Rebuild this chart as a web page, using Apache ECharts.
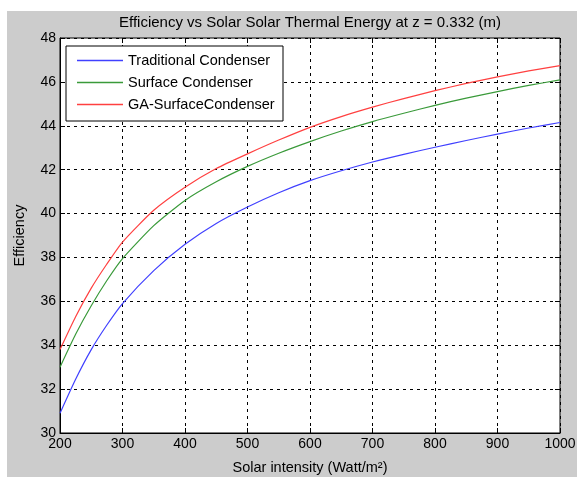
<!DOCTYPE html>
<html>
<head>
<meta charset="utf-8">
<script src="https://cdn.jsdelivr.net/npm/echarts@6/dist/echarts.min.js"></script>
<style>html,body{margin:0;padding:0;background:#fff}#c{width:577px;height:477px}</style>
</head>
<body>
<div id="c"></div>
<script>
var xValues = [200, 225, 250, 275, 300, 350, 400, 450, 500, 550, 600, 650, 700, 750, 800, 850, 900, 950, 1000];
var traditional = [30.9, 32.45, 33.8, 34.92, 35.9, 37.4, 38.6, 39.55, 40.3, 40.95, 41.5, 41.95, 42.35, 42.7, 43.02, 43.33, 43.62, 43.9, 44.15];
var surface = [33.0, 34.5, 35.8, 36.95, 37.95, 39.45, 40.6, 41.45, 42.15, 42.75, 43.28, 43.76, 44.19, 44.57, 44.93, 45.26, 45.56, 45.84, 46.09];
var gaSurface = [33.8, 35.3, 36.6, 37.7, 38.7, 40.15, 41.2, 42.05, 42.72, 43.35, 43.93, 44.42, 44.85, 45.24, 45.6, 45.93, 46.23, 46.5, 46.74];
var seriesNames = ['Traditional Condenser', 'Surface Condenser', 'GA-SurfaceCondenser'];
var xTicks = {min: 200, max: 1000, interval: 100};
var yTicks = {min: 30, max: 48, interval: 2};

function pairs(ys) { return xValues.map(function (x, i) { return [x, ys[i]]; }); }

var FONT = "'Liberation Sans', Arial, Helvetica, sans-serif";
var chart = echarts.init(document.getElementById('c'), null, {renderer: 'canvas'});
var tickStyle = {show: true, inside: true, length: 5, lineStyle: {color: '#000', width: 1}};
chart.setOption({
  backgroundColor: '#ffffff',
  animation: false,
  graphic: [{type: 'rect', left: 7, top: 11, z: -10, shape: {width: 570, height: 466}, style: {fill: '#cccccc'}}],
  title: {
    text: 'Efficiency vs Solar Solar Thermal Energy at z = 0.332 (m)',
    left: 310, top: 15, textAlign: 'center', padding: 0,
    textStyle: {fontFamily: FONT, fontSize: 15, fontWeight: 'normal', color: '#000'}
  },
  legend: {
    orient: 'vertical', left: 66, top: 46, icon: 'rect',
    padding: [7, 6, 9, 11], itemGap: 7, itemWidth: 46, itemHeight: 1.5,
    backgroundColor: '#fff', borderColor: '#000', borderWidth: 1,
    textStyle: {fontFamily: FONT, fontSize: 14.5, color: '#000', width: 149, lineHeight: 14},
    data: seriesNames
  },
  grid: {left: 60, right: 17, top: 38, bottom: 44, containLabel: false, outerBoundsMode: 'none',
    show: true, backgroundColor: '#fff', borderColor: '#000', borderWidth: 1},
  xAxis: [{
    type: 'value', min: xTicks.min, max: xTicks.max, interval: xTicks.interval,
    name: 'Solar intensity (Watt/m\u00B2)', nameLocation: 'middle', nameGap: 27,
    nameTextStyle: {fontFamily: FONT, fontSize: 14.5, color: '#000'},
    axisLine: {show: true, lineStyle: {color: '#000', width: 1}},
    axisTick: tickStyle,
    axisLabel: {fontFamily: FONT, fontSize: 14, color: '#000', margin: 4, formatter: function (v) { return String(v); }},
    splitLine: {show: true, lineStyle: {color: '#000', width: 1, type: [3, 4]}}
  }, {
    type: 'value', position: 'top', min: xTicks.min, max: xTicks.max, interval: xTicks.interval,
    axisLine: {show: false}, axisTick: tickStyle, axisLabel: {show: false}, splitLine: {show: false}
  }],
  yAxis: [{
    type: 'value', min: yTicks.min, max: yTicks.max, interval: yTicks.interval,
    name: 'Efficiency', nameLocation: 'middle', nameGap: 33,
    nameTextStyle: {fontFamily: FONT, fontSize: 14.5, color: '#000'},
    axisLine: {show: true, lineStyle: {color: '#000', width: 1}},
    axisTick: tickStyle,
    axisLabel: {fontFamily: FONT, fontSize: 14, color: '#000', margin: 4},
    splitLine: {show: true, lineStyle: {color: '#000', width: 1, type: [3, 4]}}
  }, {
    type: 'value', position: 'right', min: yTicks.min, max: yTicks.max, interval: yTicks.interval,
    axisLine: {show: false}, axisTick: tickStyle, axisLabel: {show: false}, splitLine: {show: false}
  }],
  series: [
    {name: seriesNames[0], type: 'line', data: pairs(traditional), symbol: 'none', smooth: 0.2, color: '#4040ff', lineStyle: {width: 1.2, color: '#4040ff'}},
    {name: seriesNames[1], type: 'line', data: pairs(surface), symbol: 'none', smooth: 0.2, color: '#3a9a3a', lineStyle: {width: 1.2, color: '#3a9a3a'}},
    {name: seriesNames[2], type: 'line', data: pairs(gaSurface), symbol: 'none', smooth: 0.2, color: '#ff4040', lineStyle: {width: 1.2, color: '#ff4040'}}
  ]
});
</script>
</body>
</html>
